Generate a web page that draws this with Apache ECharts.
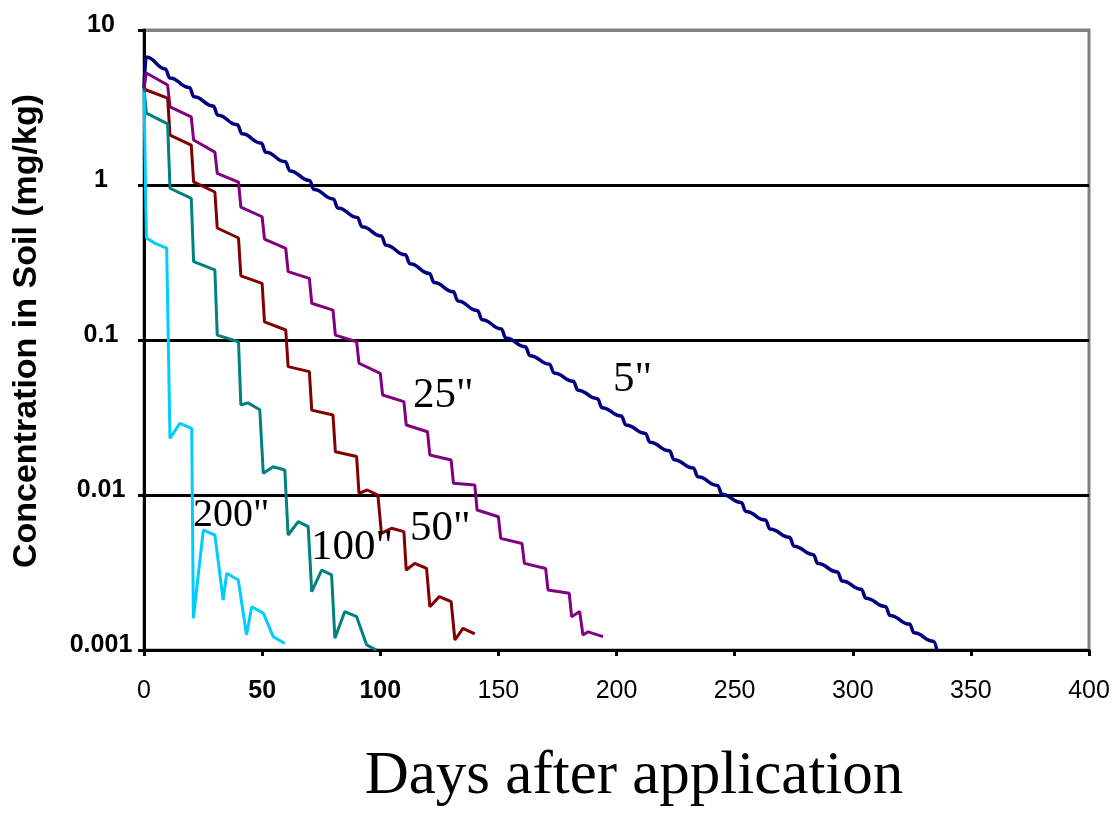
<!DOCTYPE html>
<html><head><meta charset="utf-8">
<script src="https://cdn.jsdelivr.net/npm/echarts@6/dist/echarts.min.js"></script>
<style>html,body{margin:0;padding:0;background:#fff}#c{width:1120px;height:813px}</style>
</head><body><div id="c"></div>
<script>
// ---- data (days after application, concentration mg/kg) ----
const seriesNames = ['5"', '25"', '50"', '100"', '200"'];
const yTickLabels = ['0.001', '0.01', '0.1', '1', '10'];
const xTickBold = [50, 100];

const days5 = [0, 1, 9, 11, 19.2, 21.2, 29.3, 31.3, 39.5, 41.5, 49.6, 51.6, 59.8, 61.8, 70, 72, 80.1, 82.1, 90.3, 92.3, 100.4, 102.4, 110.6, 112.6, 120.8, 122.8, 130.9, 132.9, 141.1, 143.1, 151.2, 153.2, 161.4, 163.4, 171.6, 173.6, 181.7, 183.7, 191.9, 193.9, 202, 204, 212.2, 214.2, 222.4, 224.4, 232.5, 234.5, 242.7, 244.7, 252.8, 254.8, 263, 265, 273.2, 275.2, 283.3, 285.3, 293.5, 295.5, 303.6, 305.6, 313.8, 315.8, 324, 326, 334.1, 335.6];
const conc5 = [4.2, 6.7, 5.61, 4.90, 4.25, 3.71, 3.23, 2.82, 2.45, 2.14, 1.863, 1.626, 1.412, 1.233, 1.070, 0.935, 0.813, 0.710, 0.617, 0.538, 0.469, 0.409, 0.355, 0.310, 0.269, 0.235, 0.2047, 0.1786, 0.155, 0.1353, 0.1178, 0.1029, 0.0904, 0.0792, 0.0698, 0.0612, 0.0541, 0.0474, 0.0418, 0.0366, 0.0323, 0.0283, 0.02497, 0.02188, 0.01929, 0.0169, 0.01493, 0.01309, 0.01153, 0.01011, 0.00893, 0.00782, 0.0069, 0.00604, 0.00533, 0.00467, 0.00412, 0.00361, 0.00319, 0.00279, 0.00247, 0.00216, 0.00191, 0.00167, 0.00147, 0.00129, 0.00114, 0.001];

const days25 = [0, 1, 10, 11, 20, 21, 30, 31, 40, 41, 50, 51, 60, 61, 70, 71, 80, 81, 90, 91, 100, 101, 110, 111, 120, 121, 130, 131, 140, 141, 150, 151, 160, 161, 170, 171, 180, 181, 184.4, 185.8, 188, 194.3];
const conc25 = [4.2, 5.28, 4.42, 3.19, 2.75, 1.95, 1.63, 1.19, 1.045, 0.721, 0.624, 0.447, 0.390, 0.276, 0.250, 0.1726, 0.156, 0.1076, 0.0975, 0.0708, 0.061, 0.0442, 0.040, 0.0283, 0.0256, 0.0181, 0.0168, 0.0119, 0.0116, 0.0080, 0.00724, 0.00525, 0.00487, 0.00362, 0.00336, 0.00244, 0.00232, 0.00164, 0.00177, 0.00125, 0.00131, 0.00122];

const days50 = [0, 1, 10, 11, 20, 21, 30, 31, 40, 41, 50, 51, 60, 61, 70, 71, 80, 81, 90, 91, 94.5, 99, 100.5, 104.8, 110, 111, 114.6, 119.6, 121, 125, 130, 131.6, 135, 140];
const conc50 = [4.2, 4.1, 3.64, 2.10, 1.81, 1.046, 0.901, 0.528, 0.455, 0.259, 0.232, 0.131, 0.116, 0.0673, 0.0625, 0.0353, 0.0328, 0.0190, 0.0177, 0.01026, 0.01077, 0.0100, 0.00566, 0.0061, 0.0058, 0.00328, 0.00362, 0.00336, 0.0019, 0.00221, 0.00205, 0.00116, 0.00138, 0.00127];

const days100 = [0, 1, 10, 11, 20, 21, 30, 31, 40, 41, 44, 49, 50.5, 54.7, 59.6, 61, 65.3, 69.5, 71, 75.2, 79.4, 80.8, 85, 90, 94.2, 98.4];
const conc100 = [4.2, 2.91, 2.48, 0.953, 0.82, 0.32, 0.283, 0.1076, 0.0975, 0.0381, 0.0393, 0.0355, 0.0138, 0.0152, 0.0145, 0.00552, 0.00673, 0.00625, 0.00238, 0.00328, 0.00305, 0.00119, 0.00177, 0.00164, 0.00108, 0.001];

const days200 = [0, 1, 4.7, 9.6, 11, 15.2, 20.2, 20.9, 25.1, 30, 33.5, 35, 39.9, 43.4, 45.6, 50.5, 54.7, 59.6];
const conc200 = [3.98, 0.455, 0.42, 0.391, 0.0232, 0.029, 0.0269, 0.0016, 0.00594, 0.00552, 0.0021, 0.00313, 0.00283, 0.00125, 0.0019, 0.00173, 0.00122, 0.0011];

// ---- chart ----
const dataSets = [[days5, conc5], [days25, conc25], [days50, conc50], [days100, conc100], [days200, conc200]];
const colors = ['#000080', '#800080', '#800000', '#008080', '#00CCFF'];
const widths = [3.5, 3, 3, 3, 3];
const smooths = [0.45, false, false, false, false];
const labelPos = [[613, 380, 43], [413, 396, 43], [410, 529, 43], [311, 548, 43], [193, 515, 40]];
const SANS = '"Liberation Sans", Arial, sans-serif';
const SERIF = '"Liberation Serif", "Times New Roman", serif';

function zip(d, c) { return d.map((x, i) => [x, c[i]]); }

const chart = echarts.init(document.getElementById('c'), null, { renderer: 'canvas' });
chart.setOption({
  animation: false,
  backgroundColor: '#fff',
  grid: { left: 144, right: 31, top: 30, bottom: 163, show: true, borderColor: '#808080', borderWidth: 3, backgroundColor: 'transparent', containLabel: false },
  xAxis: {
    type: 'value', min: 0, max: 400, interval: 50,
    axisLine: { show: true, lineStyle: { color: '#000', width: 3 } },
    axisTick: { show: true, length: 6, lineStyle: { color: '#000', width: 3 } },
    splitLine: { show: false },
    axisLabel: {
      margin: 29, color: '#000', fontFamily: SANS, fontSize: 25,
      formatter: v => xTickBold.includes(v) ? '{b|' + v + '}' : String(v),
      rich: { b: { fontWeight: 'bold', fontSize: 25, fontFamily: SANS, color: '#000' } }
    }
  },
  yAxis: {
    type: 'log', logBase: 10, min: 0.001, max: 10,
    axisLine: { show: true, lineStyle: { color: '#000', width: 3 } },
    axisTick: { show: true, length: 6, lineStyle: { color: '#000', width: 3 } },
    minorTick: { show: false },
    splitLine: { show: true, lineStyle: { color: ['#000', '#000', '#000', '#000', '#808080'], width: 3 } },
    axisLabel: {
      margin: 43, align: 'center', verticalAlign: 'bottom', lineHeight: 10,
      color: '#000', fontFamily: SANS, fontSize: 25, fontWeight: 'bold',
      formatter: (v, i) => yTickLabels[i]
    }
  },
  series: dataSets.map((ds, i) => ({
    name: seriesNames[i], type: 'line', data: zip(ds[0], ds[1]),
    showSymbol: false, symbol: 'none', smooth: smooths[i], smoothMonotone: 'x', clip: true,
    lineStyle: { color: colors[i], width: widths[i] }, itemStyle: { color: colors[i] }
  })),
  graphic: [
    ...seriesNames.map((n, i) => ({
      type: 'text', x: labelPos[i][0], y: labelPos[i][1], z: 100,
      style: { text: n, font: labelPos[i][2] + 'px ' + SERIF, fill: '#000', textAlign: 'left', textVerticalAlign: 'middle' }
    })),
    { type: 'text', x: 634, y: 777, z: 100,
      style: { text: 'Days after application', font: '61px ' + SERIF, fill: '#000', textAlign: 'center', textVerticalAlign: 'middle' } },
    { type: 'text', x: 27, y: 331, rotation: Math.PI / 2, z: 100,
      style: { text: 'Concentration in Soil (mg/kg)', font: 'bold 34px ' + SANS, fill: '#000', textAlign: 'center', textVerticalAlign: 'middle' } }
  ]
});
</script></body></html>
